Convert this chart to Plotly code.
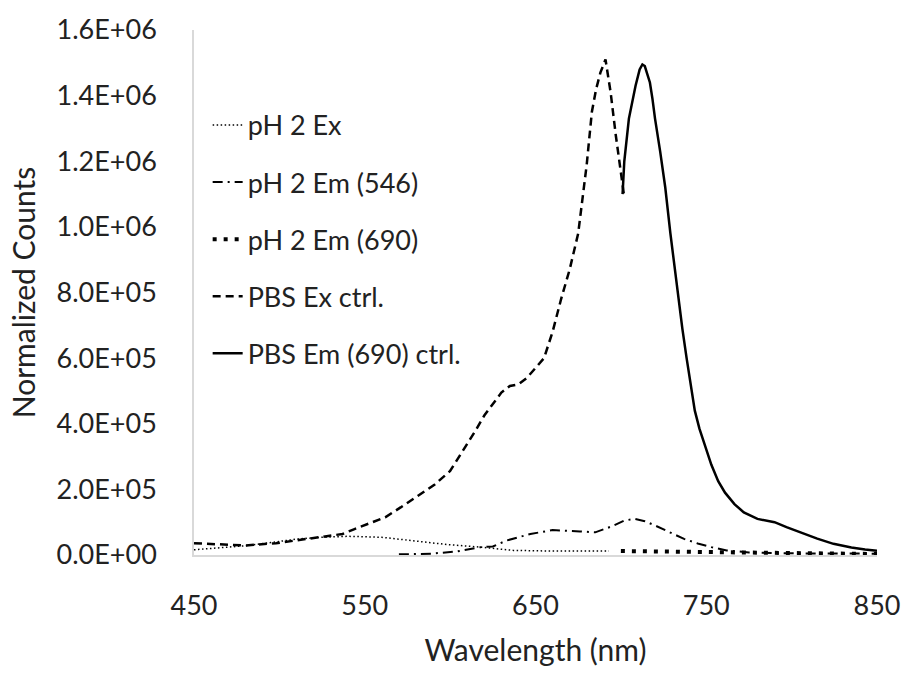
import plotly.graph_objects as go

# ---- data ----
ph2_ex_x = [450, 465, 482, 495, 511, 525, 540, 560, 579, 598, 618, 637, 660, 683, 693]
ph2_ex_y = [1.6e4, 2.2e4, 2.9e4, 3.8e4, 4.9e4, 5.4e4, 5.7e4, 5.4e4, 4.4e4, 3.2e4, 2.4e4, 1.4e4, 1.2e4, 1.2e4, 1.2e4]

ph2_em546_x = [570, 589, 604, 618, 625, 633, 647, 660, 676, 685, 695, 702, 708, 714, 720, 728, 737, 745, 753, 762, 775, 800, 850]
ph2_em546_y = [2e3, 4e3, 1.1e4, 2.4e4, 2.6e4, 4.4e4, 6.4e4, 7.6e4, 7.2e4, 6.9e4, 8.8e4, 1.05e5, 1.1e5, 1.03e5, 9e4, 7e4, 4.9e4, 3.5e4, 2.4e4, 1.4e4, 8e3, 5e3, 4e3]

ph2_em690_x = [700, 720, 740, 760, 800, 850]
ph2_em690_y = [1.2e4, 1.1e4, 9e3, 7e3, 5e3, 3e3]

pbs_ex_x = [450, 463, 480, 498, 511, 527, 537, 544, 552, 562, 571, 581, 591, 600, 605, 610,
            615, 620, 625, 630, 635, 640, 645, 650, 655, 660, 665, 670, 675, 680, 683,
            685.5, 688, 691, 694, 697, 700, 702]
pbs_ex_y = [3.6e4, 3.2e4, 2.9e4, 3.6e4, 4.6e4, 5.6e4, 6.4e4, 7.9e4, 9.5e4, 1.15e5, 1.45e5, 1.8e5, 2.15e5, 2.56e5, 2.96e5, 3.36e5,
            3.8e5, 4.25e5, 4.6e5, 4.95e5, 5.15e5, 5.2e5, 5.4e5, 5.7e5, 6.0e5, 6.8e5, 7.8e5, 8.7e5, 9.8e5, 1.19e6, 1.35e6,
            1.42e6, 1.47e6, 1.51e6, 1.41e6, 1.28e6, 1.16e6, 1.09e6]

pbs_em_x = [701, 702, 704.7, 708.6, 711, 712.6, 714, 717, 718.5, 720, 723, 726, 729, 733.7, 736, 738.5, 741, 743.3,
            746, 749, 753, 757, 761, 766.5, 772, 780, 785, 790, 797, 805, 815, 824.5, 835, 843, 850]
pbs_em_y = [1.10e6, 1.2e6, 1.33e6, 1.43e6, 1.48e6, 1.495e6, 1.49e6, 1.44e6, 1.39e6, 1.33e6, 1.23e6, 1.12e6, 9.8e5, 7.8e5, 6.9e5, 6.0e5, 5.1e5, 4.4e5,
            3.85e5, 3.36e5, 2.75e5, 2.25e5, 1.9e5, 1.55e5, 1.3e5, 1.1e5, 1.05e5, 1.0e5, 8.5e4, 6.9e4, 5e4, 3.4e4, 2.3e4, 1.7e4, 1.3e4]

x_ticks = [450, 550, 650, 750, 850]
y_ticks = [0, 2e5, 4e5, 6e5, 8e5, 1e6, 1.2e6, 1.4e6, 1.6e6]
y_tick_labels = ["0.0E+00", "2.0E+05", "4.0E+05", "6.0E+05", "8.0E+05",
                 "1.0E+06", "1.2E+06", "1.4E+06", "1.6E+06"]

FONT = "Lato"
TXT = "#222222"
fig = go.Figure()

series = [
    ("pH 2 Ex", ph2_ex_x, ph2_ex_y, dict(color="black", width=1.5, dash="1.5px,2.5px")),
    ("pH 2 Em (546)", ph2_em546_x, ph2_em546_y, dict(color="black", width=2, dash="10px,5px,2px,5px")),
    ("pH 2 Em (690)", ph2_em690_x, ph2_em690_y, dict(color="black", width=4, dash="4px,7px")),
    ("PBS Ex ctrl.", pbs_ex_x, pbs_ex_y, dict(color="black", width=2.5, dash="8px,5px")),
    ("PBS Em (690) ctrl.", pbs_em_x, pbs_em_y, dict(color="black", width=2.5)),
]
for i, (name, xs, ys, ln) in enumerate(series):
    fig.add_trace(go.Scatter(x=xs, y=ys, name=name, mode="lines", line=ln,
                             legendgroup=f"g{i}"))

fig.update_layout(
    width=912, height=674,
    margin=dict(l=194, r=28, t=28, b=116),
    paper_bgcolor="white", plot_bgcolor="white",
    font=dict(family=FONT, color=TXT, size=27),
    showlegend=True,
    legend=dict(x=0.02, y=0.865, xanchor="left", yanchor="top",
                bgcolor="rgba(0,0,0,0)", font=dict(size=27, family=FONT, color=TXT),
                tracegroupgap=19, itemwidth=30),
    xaxis=dict(range=[450, 850], tickvals=x_ticks, ticktext=[str(v) for v in x_ticks],
               showgrid=False, zeroline=False, showline=True, linecolor="#d9d9d9", linewidth=1.5,
               ticks="", ticklabelstandoff=26, tickfont=dict(size=27),
               title=dict(text="Wavelength (nm)", font=dict(size=30, family=FONT, color=TXT), standoff=20)),
    yaxis=dict(range=[0, 1.6e6], tickvals=y_ticks, ticktext=y_tick_labels,
               showgrid=False, zeroline=False, showline=True, linecolor="#d9d9d9", linewidth=1.5,
               ticks="", ticklabelstandoff=30, tickfont=dict(size=27),
               title=dict(text="Normalized Counts", font=dict(size=30, family=FONT, color=TXT), standoff=12)),
)

fig.write_html("out.html")
